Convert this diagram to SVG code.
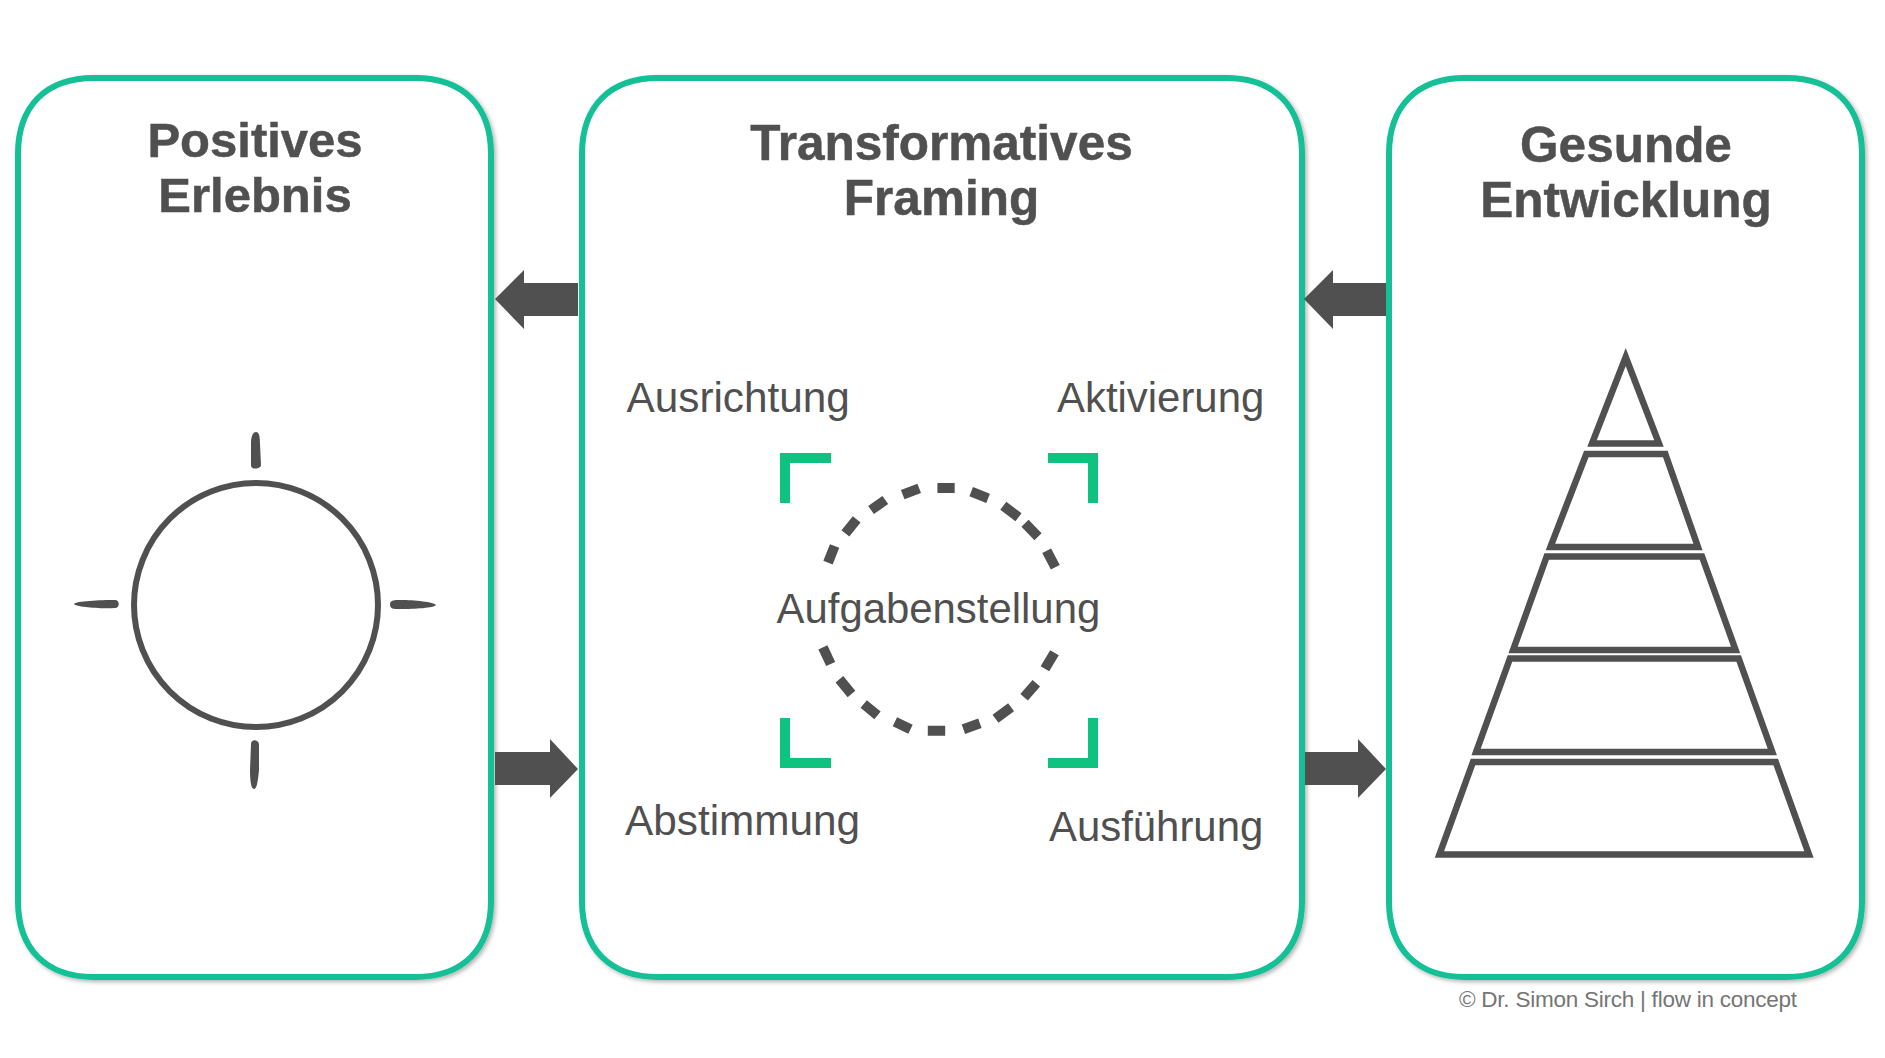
<svg xmlns="http://www.w3.org/2000/svg" width="1885" height="1058" viewBox="0 0 1885 1058">
<defs>
<filter id="sh" x="-5%" y="-5%" width="110%" height="110%"><feDropShadow dx="2" dy="2" stdDeviation="2" flood-color="#000" flood-opacity="0.3"/></filter>
</defs>
<style>
.box{fill:#fff;stroke:#12c096;stroke-width:6;filter:url(#sh)}
.title{font-family:"Liberation Sans",Arial,sans-serif;font-weight:700;font-size:49.5px;fill:#505050;stroke:#505050;stroke-width:.5;text-anchor:middle}
.lab{font-family:"Liberation Sans",Arial,sans-serif;font-size:42.3px;fill:#505050}
.lab2{font-size:41.9px}
.br{fill:none;stroke:#0fc280;stroke-width:10}
.arrow{fill:#505050}
.tier{fill:#fff;stroke:#505050;stroke-width:6.5;stroke-miterlimit:12;stroke-linejoin:miter}
.tick{fill:#505050}
</style>
<rect width="1885" height="1058" fill="#fff"/>
<g id="node-erlebnis">
<path class="box" d="M94 78H415C463 78 491 106 491 154V901C491 949 463 977 415 977H94C46 977 18 949 18 901V154C18 106 46 78 94 78Z"/>
<text class="title" style="font-size:49px" x="255" y="157">Positives</text>
<text class="title" style="font-size:49px" x="255" y="212">Erlebnis</text>
<circle cx="256" cy="605" r="122" fill="none" stroke="#505050" stroke-width="6"/>
<path class="tick" d="M256 432C259 432 260 436 260 444L261 465C261 469 252 470 251 466L251 444C251 436 253 432 256 432Z"/>
<path class="tick" d="M74 604C76 601 100 600 115 600C120 600 120 608 115 608C100 609 76 607 74 604Z"/>
<path class="tick" d="M390 604C390 600 395 600 400 600C415 600 434 602 436 605C434 608 415 609 400 609C393 609 390 609 390 604Z"/>
<path class="tick" d="M251 744C251 739 258 739 259 744L259 770C258 780 257 789 254 789C251 789 250 780 250 770Z"/>
</g>
<g id="node-framing">
<path class="box" d="M658 78H1226C1274 78 1302 106 1302 154V901C1302 949 1274 977 1226 977H658C610 977 582 949 582 901V154C582 106 610 78 658 78Z"/>
<text class="title" x="941.500" y="160">Transformatives</text>
<text class="title" x="941.500" y="215">Framing</text>
<text class="lab" x="626.500" y="412">Ausrichtung</text>
<text class="lab lab2" x="1057" y="412">Aktivierung</text>
<text class="lab lab2" x="776.500" y="623">Aufgabenstellung</text>
<text class="lab" x="625" y="835">Abstimmung</text>
<text class="lab lab2" x="1049" y="841">Ausführung</text>
<path class="br" d="M831 458H785V503M1048 458H1093V503M785 718V763H831M1093 718V763H1048"/>
<path fill="none" stroke="#505050" stroke-width="10" d="M828 562.7L834.6 546M845.4 533.300L856.7 519.3M871 510L885.3 500M902.7 494.7L919.2 488.3M937.4 488H954.7M971.2 491.7L988.1 498.3M1003.3 505.7L1018.5 517.3M1025 523.3L1038 536.7M1046.7 550.7L1055.3 567.3M822.9 647.3L830.7 664M839.4 679.3L851.5 694M863.7 704L877.5 715.3M894.9 721.7L910.5 729.3M927.8 730.7H945.2M963.4 729.3L979.9 723.3M995.5 718.7L1011.1 707.3M1024.1 697.3L1036.3 683.3M1044.9 668.7L1054.5 652.7"/>
</g>
<g id="node-entwicklung">
<path class="box" d="M1465 78H1786C1834 78 1862 106 1862 154V901C1862 949 1834 977 1786 977H1465C1417 977 1389 949 1389 901V154C1389 106 1417 78 1465 78Z"/>
<text class="title" x="1626" y="162">Gesunde</text>
<text class="title" x="1626" y="217">Entwicklung</text>
<polygon class="tier" points="1625.7,357 1659,443.6 1592,443.6"/>
<polygon class="tier" points="1586.3,454 1665.3,454 1698,547 1550.4,547"/>
<polygon class="tier" points="1546.7,556.4 1702,556.4 1735.6,650 1513.1,650"/>
<polygon class="tier" points="1510,658.5 1738.7,658.5 1772.3,752 1476.1,752"/>
<polygon class="tier" points="1473,762 1775.7,762 1809,854.6 1439.4,854.6"/>
</g>
<g id="connectors">
<path class="arrow" d="M495 299L524 270V283H578V316H524V329Z"/>
<path class="arrow" d="M495 752H550V739L578 769L550 798V785H495Z"/>
<path class="arrow" d="M1304 299L1333 270V283H1386V316H1333V329Z"/>
<path class="arrow" d="M1305 752H1358V739L1386 769L1358 798V785H1305Z"/>
</g>
<text x="1459" y="1007" font-family="'Liberation Sans',Arial,sans-serif" font-size="22.5" fill="#757575" textLength="338">© Dr. Simon Sirch | flow in concept</text>
</svg>
